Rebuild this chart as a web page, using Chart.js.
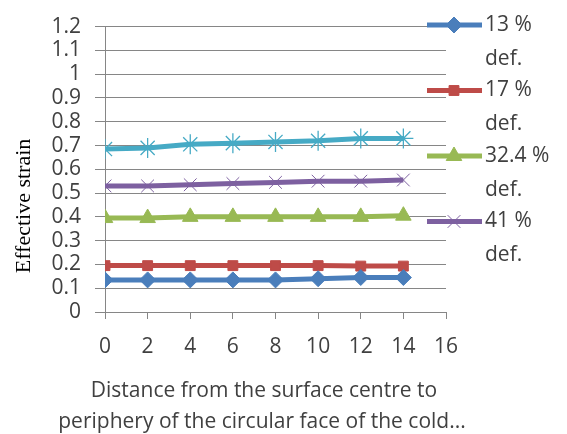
<!DOCTYPE html>
<html>
<head>
<meta charset="utf-8">
<style>
  html, body { margin: 0; padding: 0; background: #fff; }
  #wrap { width: 567px; height: 434px; }
</style>
</head>
<body>
<div id="wrap"><canvas id="strain-chart" width="567" height="434"></canvas></div>
<script src="https://cdn.jsdelivr.net/npm/chart.js@4/dist/chart.umd.min.js"></script>
<script>
  const distances = [0, 2, 4, 6, 8, 10, 12, 14];
  const def13 = [0.135, 0.135, 0.135, 0.135, 0.135, 0.14, 0.145, 0.145];
  const def17 = [0.195, 0.195, 0.195, 0.195, 0.195, 0.195, 0.193, 0.193];
  const def324 = [0.395, 0.395, 0.4, 0.4, 0.4, 0.4, 0.4, 0.405];
  const def41 = [0.53, 0.53, 0.535, 0.54, 0.545, 0.55, 0.55, 0.555];
  const defTop = [0.685, 0.69, 0.705, 0.71, 0.715, 0.72, 0.73, 0.73];
  const legendLines = [['13 %', 'def.'], ['17 %', 'def.'], ['32.4 %', 'def.'], ['41 %', 'def.']];
  const xTitle = ['Distance from the surface centre to', 'periphery of the circular face of the cold...'];
  const yTitle = 'Effective strain';

  const tickFont = { family: 'Open Sans', size: 21 };
  const textColor = '#404040';

  function toPoints(values) {
    return values.map((v, i) => ({ x: distances[i], y: v }));
  }

  const series = [
    { label: legendLines[0].join(' '), data: toPoints(def13), color: '#4a7ebb', pointStyle: 'rectRot', pointRadius: 8, pointBorderWidth: 1 },
    { label: legendLines[1].join(' '), data: toPoints(def17), color: '#be4b48', pointStyle: 'rect', pointRadius: 7, pointBorderWidth: 1 },
    { label: legendLines[2].join(' '), data: toPoints(def324), color: '#98b954', pointStyle: 'triangle', pointRadius: 9, pointBorderWidth: 1 },
    { label: legendLines[3].join(' '), data: toPoints(def41), color: '#7d60a0', pointStyle: 'crossRot', pointRadius: 9, pointBorderWidth: 1 },
    { label: '', data: toPoints(defTop), color: '#46aac5', pointStyle: 'star', pointRadius: 10, pointBorderWidth: 1.3 },
  ];

  // legend beside the plot (two text lines per entry) and both axis titles
  const sideLegend = {
    id: 'sideLegend',
    afterDraw(chart) {
      const c = chart.ctx;
      c.save();
      c.font = tickFont.size + 'px ' + tickFont.family;
      c.textBaseline = 'middle';
      for (let i = 0; i < legendLines.length; i++) {
        const ds = chart.data.datasets[i];
        const y = 25 + i * 65.5;
        c.strokeStyle = ds.borderColor;
        c.lineWidth = 5;
        c.beginPath();
        c.moveTo(427, y);
        c.lineTo(482, y);
        c.stroke();
        c.fillStyle = ds.pointBackgroundColor;
        c.strokeStyle = ds.pointBorderColor;
        c.lineWidth = ds.pointBorderWidth;
        Chart.helpers.drawPoint(c, { pointStyle: ds.pointStyle, radius: ds.pointRadius, rotation: 0, borderWidth: ds.pointBorderWidth }, 454, y);
        c.fillStyle = textColor;
        c.fillText(legendLines[i][0], 485, y);
        c.fillText(legendLines[i][1], 485, y + 34);
      }

      c.textAlign = 'center';
      c.font = '21px "Open Sans"';
      c.fillText(xTitle[0], 264, 391);
      c.fillText(xTitle[1], 262, 422);

      c.translate(24, 206);
      c.rotate(-Math.PI / 2);
      c.fillStyle = '#000';
      c.font = '22px "Liberation Serif"';
      c.fillText(yTitle, 0, 0);
      c.restore();
    }
  };

  const ctx = document.getElementById('strain-chart').getContext('2d');

  const strainChart = new Chart(ctx, {
    type: 'line',
    data: {
      datasets: series.map(s => ({
        label: s.label,
        data: s.data,
        borderColor: s.color,
        backgroundColor: s.color,
        borderWidth: 5,
        pointStyle: s.pointStyle,
        pointRadius: s.pointRadius,
        pointBackgroundColor: s.color,
        pointBorderColor: s.color,
        pointBorderWidth: s.pointBorderWidth,
        tension: 0,
      })),
    },
    options: {
      responsive: false,
      animation: false,
      layout: { padding: { left: 0, right: 121, top: 19, bottom: 0 } },
      plugins: {
        legend: { display: false },
        tooltip: { enabled: false },
      },
      scales: {
        x: {
          type: 'linear',
          min: 0,
          max: 16,
          afterFit(scale) { scale.height = 122; },
          ticks: { stepSize: 2, font: tickFont, color: textColor, padding: 15, maxRotation: 0 },
          grid: { drawOnChartArea: false, drawTicks: true, tickLength: 7, color: '#868686' },
          border: { color: '#868686', width: 1 },
        },
        y: {
          min: 0,
          max: 1.2,
          afterFit(scale) { scale.width = 105; },
          ticks: {
            stepSize: 0.1,
            autoSkip: false,
            font: tickFont,
            color: textColor,
            padding: 14,
            callback: v => String(Number(v.toFixed(1))),
          },
          grid: { color: '#868686', tickLength: 10 },
          border: { color: '#868686', width: 1 },
        },
      },
    },
    plugins: [sideLegend],
  });
</script>
</body>
</html>
